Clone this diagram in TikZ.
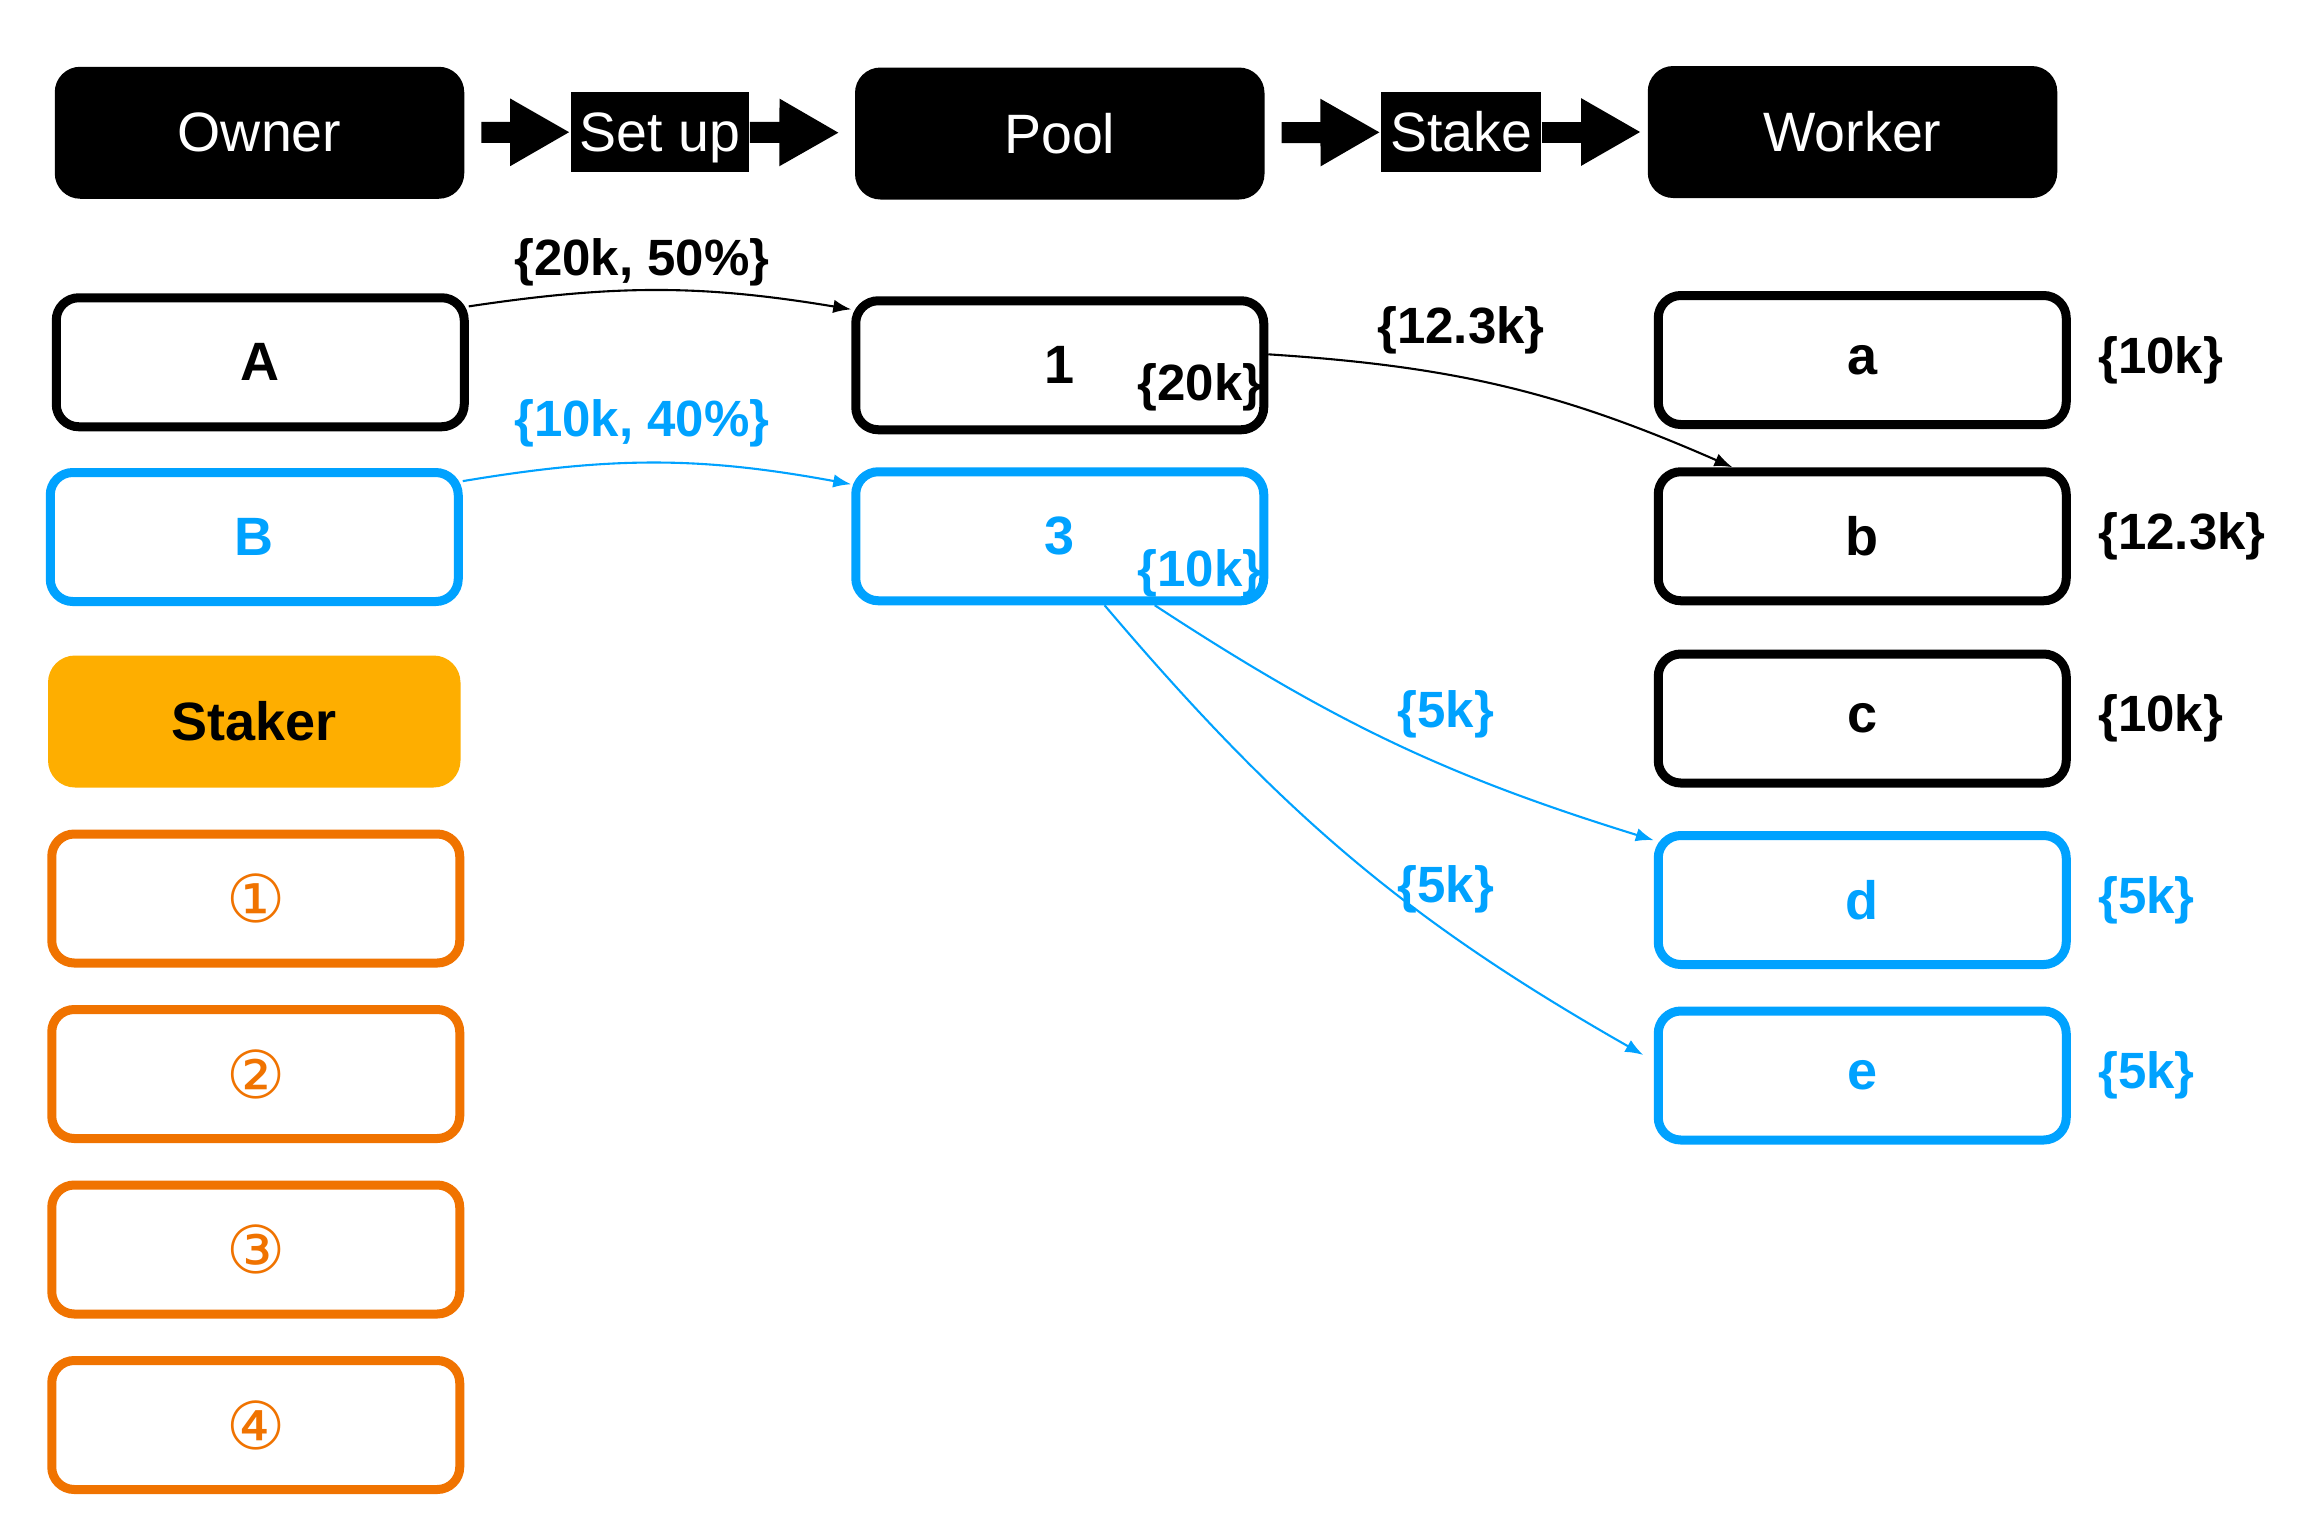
\documentclass[tikz,border=0pt]{standalone}
\usepackage{fontspec}
\setmainfont{Liberation Sans}
\newfontfamily\circfont{DejaVu Sans}
\usetikzlibrary{arrows.meta,positioning}
\definecolor{kblue}{RGB}{0,162,255}
\definecolor{korange}{RGB}{240,115,0}
\definecolor{kyellow}{RGB}{254,174,0}

\begin{document}
\begin{tikzpicture}[x=0.5pt,y=-0.5pt,>={Latex[length=6pt,width=4.5pt]},
    head/.style={fill=black,text=white,rounded corners=8.5pt,minimum width=136.5pt,minimum height=44pt,font=\fontsize{18.5}{22}\selectfont},
    act/.style={fill=black,text=white,inner xsep=3pt,inner ysep=0pt,text height=13.3pt,text depth=0pt,minimum height=26.5pt,font=\fontsize{18.5}{21}\selectfont},
    blk/.style={line width=7pt,-{Triangle[length=20pt,width=21pt]}},
    box/.style={draw,line width=3pt,rounded corners=7.5pt,minimum width=136pt,minimum height=43pt,font=\bfseries\fontsize{18}{21}\selectfont},
    bbox/.style={box,draw=kblue,text=kblue},
    obox/.style={box,draw=korange,text=korange,font=\circfont\fontsize{22}{24}\selectfont},
    val/.style={inner sep=1pt,font=\bfseries\fontsize{17}{20}\selectfont},
    flow/.style={->,line width=0.7pt}]
    \fill[white] (0,0) rectangle (1546.67,1021.33);

    \node[head] (owner) at (173,88.5) {Owner};
    \node[head] (pool) at (706.5,89) {Pool};
    \node[head] (worker) at (1235,88) {Worker};
    \node[act] (setup) at (440,88) {Set up};
    \node[act] (stake) at (974,88) {Stake};
    \draw[blk,shorten <=5.5pt] (owner) -- (setup);
    \draw[blk,shorten >=5pt] (setup) -- (pool);
    \draw[blk,shorten <=5.5pt] (pool) -- (stake);
    \draw[blk,shorten >=2pt] (stake) -- (worker);

    \node[box] (A) at (173.5,241.5) {A};
    \node[bbox] (B) at (169.5,358) {B};
    \node[fill=kyellow,rounded corners=9pt,minimum width=137.5pt,minimum height=44pt,font=\bfseries\fontsize{18}{21}\selectfont] (staker) at (169.5,481) {Staker};
    \foreach \i/\y/\t in {1/599/①,2/716/②,3/833/③,4/950/④}
        \node[obox] (s\i) at (170.5,\y) {\t};

    \node[box] (p1) at (706.5,243.5) {1};
    \node[bbox] (p3) at (706.5,357.5) {3};

    \foreach \n/\y in {a/240,b/357.5,c/479}
        \node[box] (w\n) at (1241.5,\y) {\n};
    \foreach \n/\y in {d/600,e/717}
        \node[bbox] (w\n) at (1241.5,\y) {\n};

    \node[val,right=8pt of wa] (amt_a) {\{10k\}};
    \node[val,right=8pt of wb] (amt_b) {\{12.3k\}};
    \node[val,right=8pt of wc] (amt_c) {\{10k\}};
    \node[val,text=kblue,right=8pt of wd] (amt_d) {\{5k\}};
    \node[val,text=kblue,right=8pt of we] (amt_e) {\{5k\}};

    \node[val] (lA) at (428,175) {\{20k, 50\%\}};
    \node[val,text=kblue] (lB) at (428,282) {\{10k, 40\%\}};
    \node[val] (l1) at (800,258) {\{20k\}};
    \node[val,text=kblue] (l3) at (800,382) {\{10k\}};
    \node[val] (lb) at (974,220) {\{12.3k\}};
    \node[val,text=kblue] (ld) at (964,476) {\{5k\}};
    \node[val,text=kblue] (le) at (964,593) {\{5k\}};

    \path[flow] (A.15) edge[bend left=9] (p1.165)
        (p1.3) edge[bend left=10] (wb.152);
    \path[flow,kblue] (B.15) edge[bend left=10] (p3.166)
        (p3.324) edge[bend right=8] (wd.164)
        (p3.303) edge[bend right=10,shorten >=4pt] (we.176);
\end{tikzpicture}
\end{document}
